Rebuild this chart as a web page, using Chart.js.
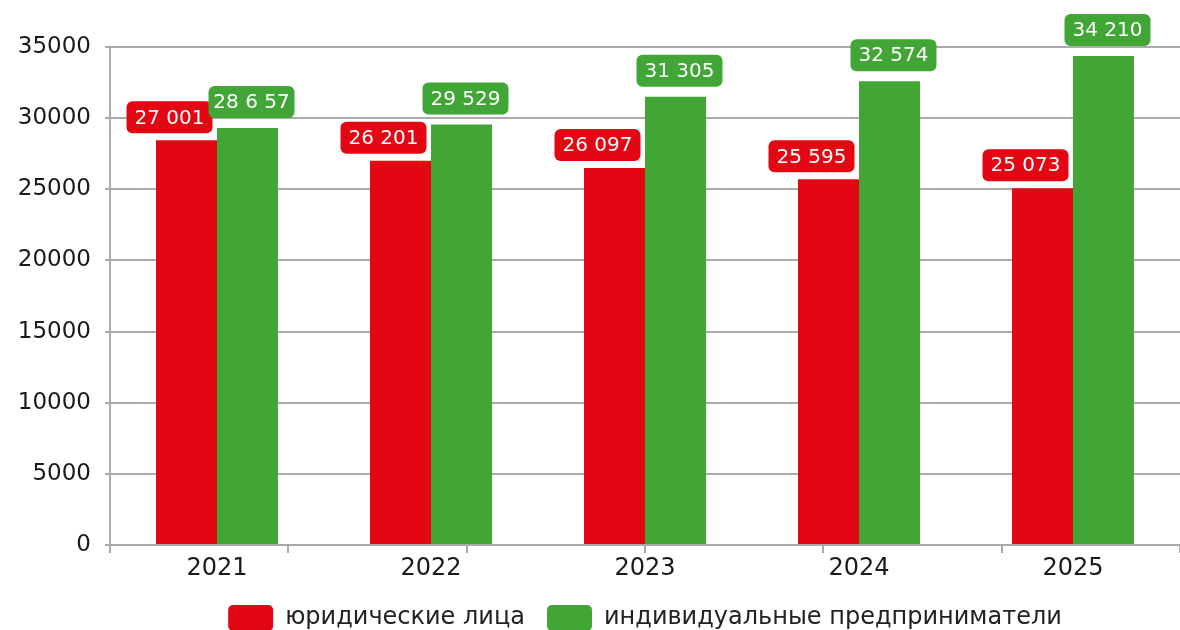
<!DOCTYPE html>
<html><head><meta charset="utf-8">
<script src="https://cdn.jsdelivr.net/npm/chart.js@4.4.0/dist/chart.umd.min.js"></script>
<style>html,body{margin:0;padding:0;background:#fff}#wrap{width:1180px;height:630px;position:relative}</style>
</head><body><div id="wrap"><canvas id="c" width="1180" height="630"></canvas></div>
<script>
const years = ['2021', '2022', '2023', '2024', '2025'];
const legalValues = [28440, 27000, 26500, 25700, 25070];
const entrepreneurValues = [29300, 29560, 31500, 32600, 34370];
const legalLabels = ['27 001', '26 201', '26 097', '25 595', '25 073'];
const entrepreneurLabels = ['28 6 57', '29 529', '31 305', '32 574', '34 210'];
const seriesNames = ['юридические лица', 'индивидуальные предприниматели'];
const yMin = 0, yMax = 35000, yStep = 5000;

const RED = '#E30613', GREEN = '#41A636', GRID = '#AAAAAA';
const FONT = '"DejaVu Sans", sans-serif';

const valueBoxes = {
  id: 'valueBoxes',
  afterDatasetsDraw(chart, args, opts) {
    const ctx = chart.ctx;
    ctx.save();
    ctx.font = '20px ' + FONT;
    ctx.textAlign = 'center';
    ctx.textBaseline = 'middle';
    chart.data.datasets.forEach((ds, di) => {
      const meta = chart.getDatasetMeta(di);
      meta.data.forEach((bar, i) => {
        const text = ds.valueLabels[i];
        const w = opts.width, h = opts.height;
        const cx = bar.x + opts.shift[di];
        const bottom = bar.y - opts.gap[di];
        ctx.beginPath();
        ctx.roundRect(cx - w / 2, bottom - h, w, h, opts.radius);
        ctx.fillStyle = ds.backgroundColor;
        ctx.fill();
        ctx.fillStyle = '#ffffff';
        ctx.fillText(text, cx, bottom - h / 2 + 1);
      });
    });
    ctx.restore();
  }
};

new Chart(document.getElementById('c'), {
  type: 'bar',
  data: {
    labels: years,
    datasets: [
      { label: seriesNames[0], data: legalValues, valueLabels: legalLabels, backgroundColor: RED, borderWidth: 0, xAxisID: 'x', yAxisID: 'y' },
      { label: seriesNames[1], data: entrepreneurValues, valueLabels: entrepreneurLabels, backgroundColor: GREEN, borderWidth: 0, xAxisID: 'x', yAxisID: 'y' }
    ]
  },
  options: {
    responsive: false,
    animation: false,
    devicePixelRatio: 1,
    layout: { padding: { top: 47, left: 0, right: -2, bottom: -11 } },
    datasets: { bar: { categoryPercentage: 0.57, barPercentage: 1 } },
    plugins: {
      tooltip: { enabled: false },
      legend: {
        position: 'bottom',
        fullSize: false,
        labels: {
          boxWidth: 45, boxHeight: 26, useBorderRadius: true, borderRadius: 5,
          padding: 22, color: '#222', font: { family: FONT, size: 24 }
        }
      },
      valueBoxes: { width: 86, height: 32, radius: 6, shift: [-17, 4], gap: [7, 10] }
    },
    scales: {
      x: {
        type: 'category', position: 'bottom', weight: 1, offset: true,
        grid: { display: false }, border: { display: false },
        ticks: { color: '#1a1a1a', padding: -7, font: { family: FONT, size: 24 } },
        afterFit(s) { s.height = 30; }
      },
      xt: {
        type: 'linear', position: 'bottom', weight: 0, min: 0, max: 6, offset: false,
        ticks: { display: false, stepSize: 1 },
        grid: { display: true, offset: false, drawOnChartArea: false, drawTicks: true, tickLength: 8, color: GRID, lineWidth: 2 },
        border: { display: false }
      },
      y: {
        min: yMin, max: yMax,
        ticks: { stepSize: yStep, color: '#1a1a1a', padding: 14, font: { family: FONT, size: 23 },
          callback: (v) => String(v) },
        grid: { color: GRID, lineWidth: 2, tickLength: 5 },
        border: { display: true, color: GRID, width: 2 },
        afterFit(s) { s.width = 110; }
      }
    }
  },
  plugins: [valueBoxes]
});
</script></body></html>
